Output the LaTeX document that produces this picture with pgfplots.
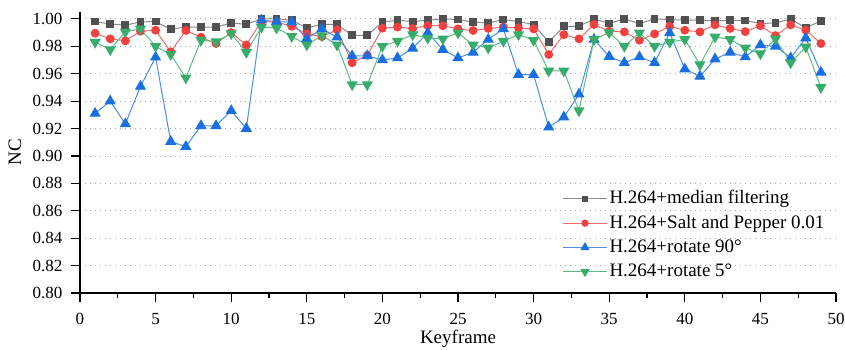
\documentclass[border=0pt]{standalone}
\usepackage{fontspec}
\setmainfont{Liberation Serif}
\usepackage{pgfplots}
\pgfplotsset{compat=1.18}
\usepackage{pgfplotstable}
\definecolor{cgray}{HTML}{515151}
\definecolor{cgrayl}{HTML}{8A8A8A}
\definecolor{cred}{HTML}{F14040}
\definecolor{credl}{HTML}{F36B6B}
\definecolor{cblue}{HTML}{1A6FDF}
\definecolor{cbluel}{HTML}{4A8EE8}
\definecolor{cgreen}{HTML}{37AD6B}
\definecolor{cgreenl}{HTML}{5CBD87}
\pgfplotstableread{
k black red blue green
1 0.998 0.9895 0.931 0.983
2 0.9963 0.9854 0.940 0.9776
3 0.9954 0.984 0.9234 0.9905
4 0.9978 0.991 0.9507 0.9927
5 0.998 0.9917 0.972 0.980
6 0.9924 0.976 0.9105 0.974
7 0.994 0.9915 0.9068 0.957
8 0.994 0.9866 0.922 0.9844
9 0.994 0.982 0.922 0.9834
10 0.997 0.990 0.933 0.9893
11 0.996 0.981 0.920 0.9756
12 1.000 0.9983 0.999 0.994
13 1.000 0.9976 0.998 0.9934
14 0.999 0.9946 0.9976 0.9873
15 0.9934 0.989 0.9856 0.981
16 0.996 0.987 0.9927 0.9878
17 0.996 0.992 0.9866 0.981
18 0.988 0.968 0.973 0.952
19 0.988 0.9734 0.973 0.952
20 0.9976 0.9932 0.970 0.980
21 0.999 0.994 0.9715 0.9837
22 0.998 0.993 0.9785 0.9885
23 0.999 0.995 0.9898 0.986
24 1.000 0.995 0.9776 0.9854
25 0.9995 0.9927 0.9715 0.9898
26 0.9976 0.9915 0.9756 0.981
27 0.997 0.993 0.985 0.9788
28 0.9995 0.994 0.9927 0.9837
29 0.998 0.9934 0.9593 0.9885
30 0.9959 0.9927 0.9593 0.9844
31 0.983 0.974 0.921 0.962
32 0.9946 0.9885 0.9283 0.962
33 0.9946 0.9854 0.945 0.933
34 1.000 0.9959 0.985 0.985
35 0.9966 0.991 0.9725 0.990
36 1.000 0.9905 0.968 0.980
37 0.9966 0.9844 0.9722 0.9898
38 1.000 0.989 0.968 0.980
39 0.9995 0.9946 0.9898 0.983
40 0.999 0.9917 0.9634 0.985
41 0.999 0.9905 0.958 0.9666
42 0.9985 0.9956 0.9707 0.9868
43 0.999 0.993 0.9756 0.985
44 0.9988 0.9907 0.9722 0.9788
45 0.9966 0.995 0.981 0.9746
46 0.997 0.9878 0.980 0.9854
47 1.000 0.9956 0.9715 0.968
48 0.9934 0.9917 0.986 0.9795
49 0.9985 0.982 0.961 0.950
}\data
\begin{document}
\begin{tikzpicture}
\begin{axis}[
  scale only axis,
  width=756pt, height=281pt,
  xmin=0, xmax=50, ymin=0.8, ymax=1.005,
  axis lines*=left,
  axis line style={line width=1.4pt, black},
  every tick/.style={black, line width=1.2pt},
  tick align=outside,
  major tick length=9pt,
  minor tick length=5pt,
  xtick={0,5,...,50},
  minor xtick={2.5,7.5,...,47.5},
  ytick={0.80,0.82,0.84,0.86,0.88,0.90,0.92,0.94,0.96,0.98,1.00},
  ymajorgrids,
  major grid style={gray!70, line width=0.8pt, dash pattern=on 1pt off 4pt},
  yticklabel style={/pgf/number format/fixed, /pgf/number format/precision=2, /pgf/number format/fixed zerofill},
  /pgf/number format/assume math mode=true,
  tick label style={font=\fontsize{17}{20}\selectfont},
  xticklabel shift=8pt,
  yticklabel shift=5pt,
  label style={font=\fontsize{19}{22}\selectfont},
  xlabel={Keyframe},
  ylabel={NC},
  xlabel style={at={(axis description cs:0.5,0)}, anchor=center, yshift=-46pt},
  ylabel style={at={(axis description cs:-0.086,0.5)}, anchor=center},
  legend style={draw=none, fill=none, at={(0.634,0.382)}, anchor=north west,
    font=\fontsize{19}{22}\selectfont,
    nodes={inner sep=2pt, text height=14pt, text depth=4pt},
    row sep=2.3pt},
  legend cell align=left,
  legend image code/.code={\draw[mark repeat=2,mark phase=2,mark size=0.8*\pgfplotmarksize] plot coordinates {(0pt,0pt) (22pt,0pt) (44pt,0pt)};},
  every axis plot/.append style={line width=1pt},
]
\addplot[cgrayl, mark=square*, mark size=3.4pt, mark options={cgray, fill=cgray, draw=cgray}] table[x=k,y=black] {\data};
\addlegendentry{H.264+median filtering}
\addplot[credl, mark=*, mark size=3.9pt, mark options={cred, fill=cred, draw=cred}] table[x=k,y=red] {\data};
\addlegendentry{H.264+Salt and Pepper 0.01}
\addplot[cbluel, mark=triangle*, mark size=5.5pt, mark options={cblue, fill=cblue, draw=cblue}] table[x=k,y=blue] {\data};
\addlegendentry{H.264+rotate 90°}
\addplot[cgreenl, mark=triangle*, mark size=5.5pt, mark options={cgreen, fill=cgreen, draw=cgreen, rotate=180}] table[x=k,y=green] {\data};
\addlegendentry{H.264+rotate 5°}
\end{axis}
\pgfresetboundingbox
\path (current axis.south west) ++(-80pt,-56pt) rectangle ([xshift=9pt,yshift=12pt]current axis.north east);
\end{tikzpicture}
\end{document}
